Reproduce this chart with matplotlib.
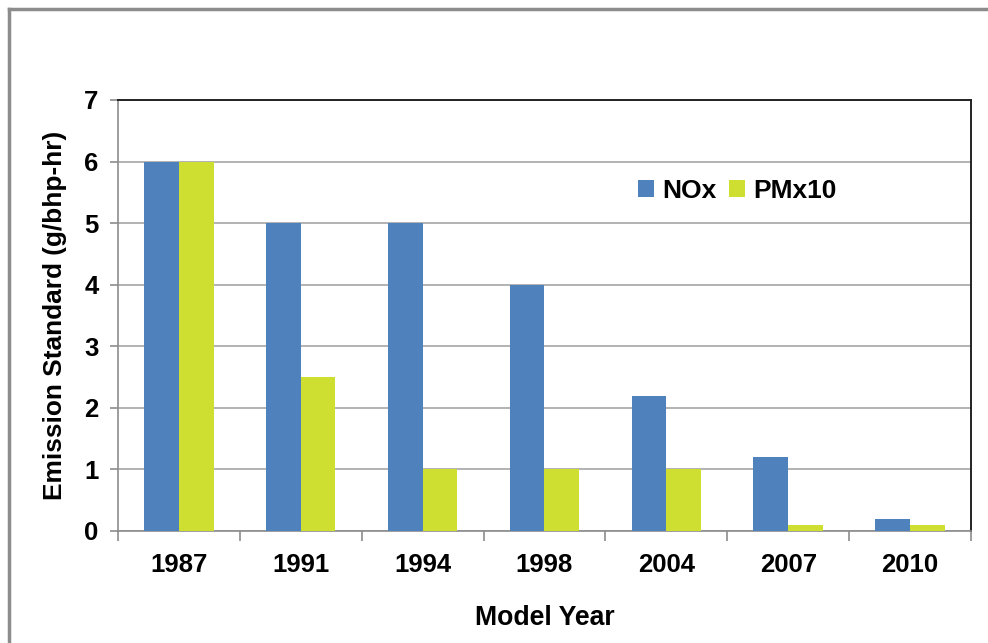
#!/usr/bin/env python3
"""
Heavy-duty engine emission standards by model year (NOx and PM x10).
Saves out.png
"""
import numpy as np
import matplotlib.pyplot as plt
from matplotlib.lines import Line2D

years = ['1987', '1991', '1994', '1998', '2004', '2007', '2010']
nox = [6, 5, 5, 4, 2.2, 1.2, 0.2]
pm_x10 = [6, 2.5, 1, 1, 1, 0.1, 0.1]

BLUE = '#4F81BD'
GREEN = '#CEDF32'

plt.rcParams['font.family'] = ['Liberation Sans', 'DejaVu Sans']

fig = plt.figure(figsize=(9.88, 6.43), dpi=100)
ax = fig.add_axes([0.1194, 0.1742, 0.8634, 0.6703])

# frame around the chart: only top and left edges fall inside the image
fx, fy = 0.0091, 0.986
fig.lines.append(Line2D([fx, 1.0], [fy, fy], transform=fig.transFigure,
                        color='#8c8c8c', linewidth=2.5))
fig.lines.append(Line2D([fx, fx], [0.0, fy], transform=fig.transFigure,
                        color='#8c8c8c', linewidth=2.5))

x = np.arange(len(years))
w = 0.285
ax.bar(x - w / 2, nox, w, color=BLUE, label='NOx', zorder=3)
ax.bar(x + w / 2, pm_x10, w, color=GREEN, label='PMx10', zorder=3)

ax.set_xlim(-0.5, len(years) - 0.5)
ax.set_ylim(0, 7)
ax.set_yticks(range(0, 8))
ax.yaxis.grid(True, color='#a6a6a6', linewidth=1.2, zorder=0)

# category labels centred, tick marks at category boundaries
ax.set_xticks(x)
ax.set_xticklabels(years, fontsize=18.5, fontweight='bold')
ax.tick_params(axis='x', length=0, pad=16)
ax.set_xticks(np.arange(-0.5, len(years)), minor=True)
ax.tick_params(axis='x', which='minor', length=7, color='#8c8c8c', width=1.2)
ax.tick_params(axis='y', length=6, color='#8c8c8c', width=1.2, pad=8)
for lab in ax.get_yticklabels():
    lab.set_fontsize(18.5)
    lab.set_fontweight('bold')

for side in ['left', 'bottom']:
    ax.spines[side].set_color('#8c8c8c')
    ax.spines[side].set_linewidth(1.2)
for side in ['top', 'right']:
    ax.spines[side].set_color('#222222')
    ax.spines[side].set_linewidth(1.4)

ax.set_xlabel('Model Year', fontsize=19.2, fontweight='bold', labelpad=20)
ax.set_ylabel('Emission Standard (g/bhp-hr)', fontsize=18.9, fontweight='bold', labelpad=12)

ax.legend(loc='upper left', bbox_to_anchor=(0.582, 0.872), ncol=2, frameon=False,
          prop={'size': 19, 'weight': 'bold'}, handlelength=0.6, handleheight=0.65,
          handletextpad=0.3, columnspacing=0.5)

fig.savefig('out.png', dpi=100)
